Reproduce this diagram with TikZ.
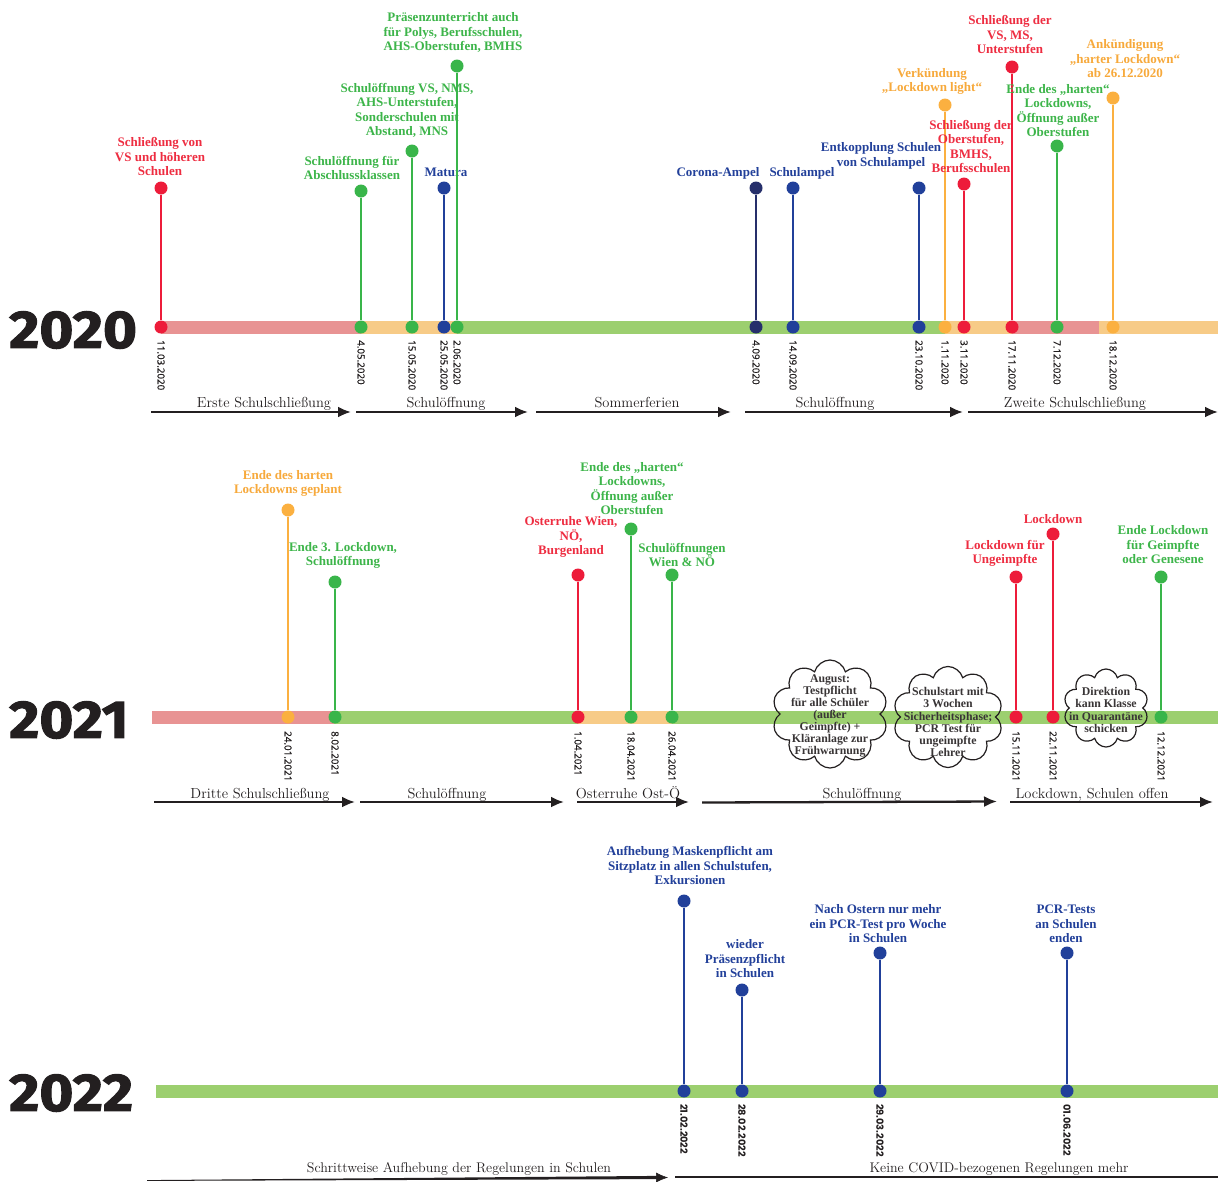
\documentclass[tikz,border=0pt]{standalone}
\usepackage{fontspec}
\newfontfamily\datefont{Open Sans}[FakeBold=0.6]
\newfontfamily\datefontb{Poppins}
\newfontfamily\yearfont{Fira Sans}[FakeStretch=1.1, FakeBold=2]
\newfontfamily\lblfont{Liberation Serif}
\usetikzlibrary{arrows.meta,shapes.symbols,calc}
\definecolor{cred}{HTML}{ED1C3A}
\definecolor{cgreen}{HTML}{39B54A}
\definecolor{cblue}{HTML}{21409A}
\definecolor{cdblue}{HTML}{262F6B}
\definecolor{corange}{HTML}{FBB040}
\definecolor{tred}{HTML}{EE2D41}
\definecolor{tgreen}{HTML}{3DB54A}
\definecolor{torange}{HTML}{F7A93B}
\definecolor{tblue}{HTML}{22409A}
\definecolor{bpink}{HTML}{E89393}
\definecolor{borange}{HTML}{F7CB87}
\definecolor{bgreen}{HTML}{9CCF6F}
\definecolor{ink}{HTML}{231F20}
\tikzset{
  dotn/.style={circle, inner sep=0pt, minimum size=13pt},
  stem/.style={line width=1.2pt},
  lbl/.style={font=\lblfont\bfseries\fontsize{13}{14.5}\selectfont, align=center, inner sep=0pt, anchor=south},
  dlbl/.style={font=\datefont\fontsize{9.8}{11}\selectfont, text=ink, rotate=-90, anchor=west, inner sep=0pt},
  dlblb/.style={font=\datefontb\bfseries\fontsize{9.8}{11}\selectfont, text=ink, rotate=-90, anchor=west, inner sep=0pt},
  phase/.style={font=\fontsize{14.5}{16}\selectfont, text=ink, inner sep=0pt, anchor=base},
  phaseb/.style={font=\fontsize{14}{16}\selectfont, text=ink, inner sep=0pt, anchor=base},
  parr/.style={line width=2.3pt, draw=ink, -{Latex[length=13pt,width=11pt]}},
  yr/.style={font=\yearfont\bfseries\fontsize{53}{53}\selectfont, text=ink, inner sep=0pt, anchor=west},
  cloudbox/.style={cloud, cloud puffs=10, cloud ignores aspect, draw=ink, line width=1.2pt, inner sep=0pt},
  cloudtxt/.style={font=\lblfont\bfseries\fontsize{11.8}{12.1}\selectfont, align=center, text=ink!90, inner sep=0pt},
}
% #1 id, #2 x, #3 bar y, #4 top y, #5 dot colour, #6 text colour, #7 label x, #8 label last line y, #9 text
\newcommand{\tlev}[9]{%
  \node[dotn, fill=#5] (#1b) at (#2,#3) {};
  \node[dotn, fill=#5] (#1t) at (#2,#4) {};
  \draw[stem, draw=#5] (#1t) -- (#1b);
  \node[lbl, text=#6] (#1l) at (#7,#8+5) {#9};
}
\begin{document}
\begin{tikzpicture}[x=1pt,y=-1pt]
\useasboundingbox (0,0) rectangle (1218,1181);
\fill[white] (0,0) rectangle (1218,1181);

% ---------- years
\node[yr] (y2020) at (9,330) {2020};
\node[yr] (y2021) at (9,720) {2021};
\node[yr] (y2022) at (9,1093) {2022};

% ---------- bars
\fill[bpink]   (161,320.5) rectangle (361,333.5);
\fill[borange] (361,320.5) rectangle (457,333.5);
\fill[bgreen]  (457,320.5) rectangle (945,333.5);
\fill[borange] (945,320.5) rectangle (1012,333.5);
\fill[bpink]   (1012,320.5) rectangle (1099,333.5);
\fill[borange] (1099,320.5) rectangle (1218,333.5);

\fill[bpink]   (152,710.5) rectangle (334,723.5);
\fill[bgreen]  (334,710.5) rectangle (578,723.5);
\fill[borange] (578,710.5) rectangle (672,723.5);
\fill[bgreen]  (672,710.5) rectangle (1218,723.5);

\fill[bgreen]  (156,1084.5) rectangle (1218,1097.5);

% ---------- 2020 events
\tlev{e1}{161}{327}{188}{cred}{tred}{160}{171}{Schließung von\\VS und höheren\\Schulen}
\tlev{e2}{361}{327}{191}{cgreen}{tgreen}{352}{175}{Schulöffnung für\\Abschlussklassen}
\tlev{e3}{412}{327}{151}{cgreen}{tgreen}{407}{133}{Schulöffnung VS, NMS,\\AHS-Unterstufen,\\Sonderschulen mit\\Abstand, MNS}
\tlev{e4}{444}{327}{188}{cblue}{tblue}{446}{172}{Matura}
\tlev{e5}{457}{327}{66}{cgreen}{tgreen}{453}{48}{Präsenzunterricht auch\\für Polys, Berufsschulen,\\AHS-Oberstufen, BMHS}
\tlev{e6}{756}{327}{188}{cdblue}{tblue}{718}{174}{Corona-Ampel}
\tlev{e7}{793}{327}{188}{cblue}{tblue}{802}{174}{Schulampel}
\tlev{e8}{919}{327}{188}{cblue}{tblue}{881}{164}{Entkopplung Schulen\\von Schulampel}
\tlev{e9}{945}{327}{105}{corange}{torange}{932}{90}{Verkündung\\„Lockdown light“}
\tlev{e10}{964}{327}{184}{cred}{tred}{971}{168}{Schließung der\\Oberstufen,\\BMHS,\\Berufsschulen}
\tlev{e11}{1012}{327}{67}{cred}{tred}{1010}{49}{Schließung der\\VS, MS,\\Unterstufen}
\tlev{e12}{1057}{327}{146}{cgreen}{tgreen}{1058}{132}{Ende des „harten“\\Lockdowns,\\Öffnung außer\\Oberstufen}
\tlev{e13}{1113}{327}{98}{corange}{torange}{1125}{73}{Ankündigung\\„harter Lockdown“\\ab 26.12.2020}

\node[dlbl] (e1d) at ($(e1b)+(0,13)$) {11.03.2020};
\node[dlbl] (e2d) at ($(e2b)+(0,13)$) {4.05.2020};
\node[dlbl] (e3d) at ($(e3b)+(0,13)$) {15.05.2020};
\node[dlbl] (e4d) at ($(e4b)+(0,13)$) {25.05.2020};
\node[dlbl] (e5d) at ($(e5b)+(0,13)$) {2.06.2020};
\node[dlbl] (e6d) at ($(e6b)+(0,13)$) {4.09.2020};
\node[dlbl] (e7d) at ($(e7b)+(0,13)$) {14.09.2020};
\node[dlbl] (e8d) at ($(e8b)+(0,13)$) {23.10.2020};
\node[dlbl] (e9d) at ($(e9b)+(0,13)$) {1.11.2020};
\node[dlbl] (e10d) at ($(e10b)+(0,13)$) {3.11.2020};
\node[dlbl] (e11d) at ($(e11b)+(0,13)$) {17.11.2020};
\node[dlbl] (e12d) at ($(e12b)+(0,13)$) {7.12.2020};
\node[dlbl] (e13d) at ($(e13b)+(0,13)$) {18.12.2020};

% 2020 phases
\coordinate (a1s) at (151,412); \coordinate (a1e) at (351,412);
\coordinate (a2s) at (356,412); \coordinate (a2e) at (528,412);
\coordinate (a3s) at (536,412); \coordinate (a3e) at (731,412);
\coordinate (a4s) at (745,412); \coordinate (a4e) at (963,412);
\coordinate (a5s) at (968,412); \coordinate (a5e) at (1218,412);
\draw[parr] (a1s) -- (a1e);
\draw[parr] (a2s) -- (a2e);
\draw[parr] (a3s) -- (a3e);
\draw[parr] (a4s) -- (a4e);
\draw[parr] (a5s) -- (a5e);
\node[phase] (p1) at (264,407) {Erste Schulschließung};
\node[phase] (p2) at (446,407) {Schulöffnung};
\node[phase] (p3) at (637,407) {Sommerferien};
\node[phase] (p4) at (835,407) {Schulöffnung};
\node[phase] (p5) at (1075,407) {Zweite Schulschließung};

% ---------- 2021 events
\tlev{f1}{288}{717}{510}{corange}{torange}{288}{492}{Ende des harten\\Lockdowns geplant}
\tlev{f2}{335}{717}{582}{cgreen}{tgreen}{343}{564}{Ende 3. Lockdown,\\Schulöffnung}
\tlev{f3}{578}{717}{575}{cred}{tred}{571}{553}{Osterruhe Wien,\\NÖ,\\Burgenland}
\tlev{f4}{631}{717}{529}{cgreen}{tgreen}{632}{510}{Ende des „harten“\\Lockdowns,\\Öffnung außer\\Oberstufen}
\tlev{f5}{672}{717}{575}{cgreen}{tgreen}{682}{562}{Schulöffnungen\\Wien \& NÖ}
\tlev{f6}{1016}{717}{577}{cred}{tred}{1005}{562}{Lockdown für\\Ungeimpfte}
\tlev{f7}{1053}{717}{534}{cred}{tred}{1053}{519}{Lockdown}
\tlev{f8}{1161}{717}{577}{cgreen}{tgreen}{1163}{559}{Ende Lockdown\\für Geimpfte\\oder Genesene}

\node[dlbl] (f1d) at ($(f1b)+(0,14)$) {24.01.2021};
\node[dlbl] (f2d) at ($(f2b)+(0,14)$) {8.02.2021};
\node[dlbl] (f3d) at ($(f3b)+(0,14)$) {1.04.2021};
\node[dlbl] (f4d) at ($(f4b)+(0,14)$) {18.04.2021};
\node[dlbl] (f5d) at ($(f5b)+(0,14)$) {26.04.2021};
\node[dlbl] (f6d) at ($(f6b)+(0,14)$) {15.11.2021};
\node[dlbl] (f7d) at ($(f7b)+(0,14)$) {22.11.2021};
\node[dlbl] (f8d) at ($(f8b)+(0,14)$) {12.12.2021};

% clouds
\node[cloudbox, minimum width=116pt, minimum height=108pt] (k1) at (830,714) {};
\node[cloudtxt] (k1t) at (830,716) {August:\\Testpflicht\\für alle Schüler\\(außer\\Geimpfte) +\\Kläranlage zur\\Frühwarnung};
\node[cloudbox, minimum width=110pt, minimum height=101pt] (k2) at (948,717) {};
\node[cloudtxt] (k2t) at (948,722) {Schulstart mit\\3 Wochen\\Sicherheitsphase;\\PCR Test für\\ungeimpfte\\Lehrer};
\node[cloudbox, minimum width=85pt, minimum height=78pt] (k3) at (1106,708) {};
\node[cloudtxt] (k3t) at (1106,710) {Direktion\\kann Klasse\\in Quarantäne\\schicken};

% 2021 phases
\coordinate (b1s) at (154,802); \coordinate (b1e) at (355,802);
\coordinate (b2s) at (360,802); \coordinate (b2e) at (564,802);
\coordinate (b3s) at (577,802); \coordinate (b3e) at (689,802);
\coordinate (b4s) at (702,802.5); \coordinate (b4e) at (997,801.5);
\coordinate (b5s) at (1010,802); \coordinate (b5e) at (1213,802);
\draw[parr] (b1s) -- (b1e);
\draw[parr] (b2s) -- (b2e);
\draw[parr] (b3s) -- (b3e);
\draw[parr] (b4s) -- (b4e);
\draw[parr] (b5s) -- (b5e);
\node[phase] (q1) at (260,798) {Dritte Schulschließung};
\node[phase] (q2) at (447,798) {Schulöffnung};
\node[phase] (q3) at (628,798) {Osterruhe Ost-Ö};
\node[phase] (q4) at (862,798) {Schulöffnung};
\node[phase] (q5) at (1092,798) {Lockdown, Schulen offen};

% ---------- 2022 events
\tlev{g1}{684}{1091}{901}{cblue}{tblue}{690}{880}{Aufhebung Maskenpflicht am\\Sitzplatz in allen Schulstufen,\\Exkursionen}
\tlev{g2}{742}{1091}{990}{cblue}{tblue}{745}{973}{wieder\\Präsenzpflicht\\in Schulen}
\tlev{g3}{880}{1091}{953}{cblue}{tblue}{878}{938}{Nach Ostern nur mehr\\ein PCR-Test pro Woche\\in Schulen}
\tlev{g4}{1067}{1091}{953}{cblue}{tblue}{1066}{938}{PCR-Tests\\an Schulen\\enden}

\node[dlblb] (g1d) at ($(g1b)+(0,13)$) {21.02.2022};
\node[dlblb] (g2d) at ($(g2b)+(0,13)$) {28.02.2022};
\node[dlblb] (g3d) at ($(g3b)+(0,13)$) {29.03.2022};
\node[dlblb] (g4d) at ($(g4b)+(0,13)$) {01.06.2022};

% 2022 phases
\coordinate (c1s) at (147,1180.5); \coordinate (c1e) at (668,1177.5);
\coordinate (c2s) at (675,1177); \coordinate (c2e) at (1218,1177);
\fill[ink] ($(c1s)+(0,-0.4)$) -- ($(c1e)+(-11,-1.6)$) -- ($(c1e)+(-11,1.6)$) -- ($(c1s)+(0,0.4)$) -- cycle;
\draw[ink, line width=0.5pt, -{Latex[length=12pt,width=10pt]}] ($(c1e)+(-12,0)$) -- (c1e);
\draw[ink, line width=2.5pt] (c2s) -- (c2e);
\node[phaseb] (r1) at (459,1172) {Schrittweise Aufhebung der Regelungen in Schulen};
\node[phaseb] (r2) at (999,1172) {Keine COVID-bezogenen Regelungen mehr};
\end{tikzpicture}
\end{document}
